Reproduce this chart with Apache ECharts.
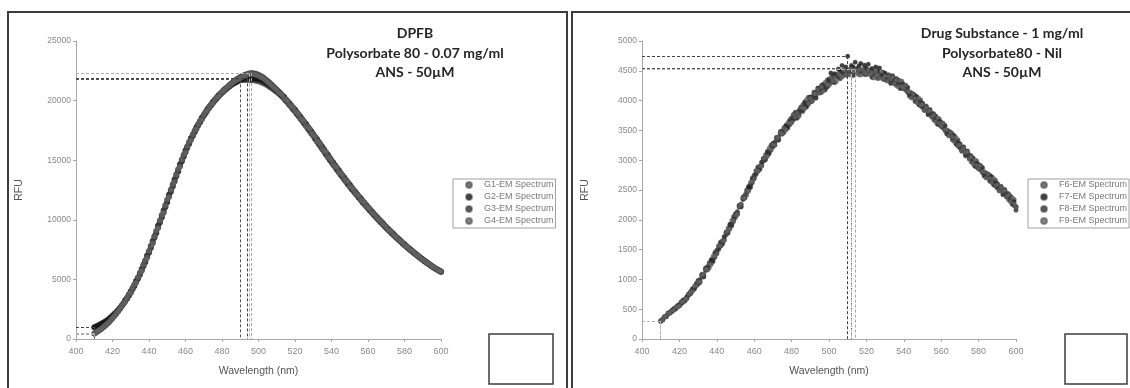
<!DOCTYPE html>
<html>
<head>
<meta charset="utf-8">
<title>ANS emission spectra</title>
<script src="https://cdn.jsdelivr.net/npm/echarts@6/dist/echarts.min.js"></script>
<style>
  html, body { margin: 0; padding: 0; background: #fff; }
  #main { width: 1130px; height: 388px; }
</style>
</head>
<body>
<div id="main"></div>
<script>
// Emission wavelengths (nm), 1 nm steps, shared by every well
const wavelengths = [
  410,411,412,413,414,415,416,417,418,419, 420,421,422,423,424,425,426,427,428,429,
  430,431,432,433,434,435,436,437,438,439, 440,441,442,443,444,445,446,447,448,449,
  450,451,452,453,454,455,456,457,458,459, 460,461,462,463,464,465,466,467,468,469,
  470,471,472,473,474,475,476,477,478,479, 480,481,482,483,484,485,486,487,488,489,
  490,491,492,493,494,495,496,497,498,499, 500,501,502,503,504,505,506,507,508,509,
  510,511,512,513,514,515,516,517,518,519, 520,521,522,523,524,525,526,527,528,529,
  530,531,532,533,534,535,536,537,538,539, 540,541,542,543,544,545,546,547,548,549,
  550,551,552,553,554,555,556,557,558,559, 560,561,562,563,564,565,566,567,568,569,
  570,571,572,573,574,575,576,577,578,579, 580,581,582,583,584,585,586,587,588,589,
  590,591,592,593,594,595,596,597,598,599, 600];

// DPFB, Polysorbate 80 0.07 mg/ml, ANS 50 µM (RFU)
const g1 = [
  1000,1070,1140,1220,1295,1380,1465,1575,1680,1820,
  1960,2105,2245,2415,2590,2780,2990,3160,3480,3650,
  3990,4180,4560,4770,5190,5400,5870,6110,6600,6860,
  7390,7650,8210,8490,9070,9340,9950,10200,10790,11060,
  11680,11930,12540,12790,13390,13640,14240,14490,15060,15290,
  15830,16030,16520,16710,17170,17340,17760,17920,18310,18450,
  18820,18940,19270,19380,19690,19780,20070,20140,20400,20470,
  20710,20770,20990,21030,21230,21270,21420,21500,21590,21680,
  21780,21720,21750,21700,21740,21730,21690,21720,21680,21650,
  21620,21560,21500,21430,21350,21260,21150,21050,20950,20830,
  20720,20600,20480,20420,20130,20110,19790,19760,19420,19400,
  19060,19040,18660,18640,18260,18240,17850,17830,17420,17410,
  17000,16990,16550,16550,16110,16110,15670,15670,15230,15230,
  14800,14790,14380,14370,13960,13950,13560,13540,13160,13140,
  12760,12750,12390,12360,12010,11985,11640,11620,11290,11250,
  10930,10900,10600,10550,10260,10215,9930,9890,9610,9565,
  9300,9250,9000,8950,8700,8650,8420,8360,8140,8080,
  7860,7810,7600,7550,7345,7290,7100,7040,6860,6800,
  6620,6570,6400,6350,6185,6130,5975,5935,5800,5755,
  5690];
const g2 = [
  960,1035,1110,1190,1270,1360,1450,1560,1670,1810,
  1955,2100,2245,2420,2595,2790,2985,3250,3390,3740,
  3890,4280,4440,4880,5050,5530,5730,6240,6450,7000,
  7230,7810,8040,8650,8890,9520,9760,10380,10600,11240,
  11480,12110,12350,12970,13210,13815,14060,14650,14900,15440,
  15670,16170,16380,16840,17030,17460,17640,18030,18190,18560,
  18700,19040,19170,19480,19590,19880,19970,20240,20320,20560,
  20630,20850,20910,21110,21170,21340,21400,21480,21570,21640,
  21700,21760,21800,21830,21860,21840,21850,21820,21830,21790,
  21770,21720,21660,21590,21500,21400,21290,21180,21050,20930,
  20790,20650,20500,20320,20290,19960,19940,19600,19580,19240,
  19240,18860,18840,18460,18440,18050,18040,17630,17620,17210,
  17200,16770,16770,16330,16330,15890,15890,15450,15450,15010,
  15000,14590,14580,14170,14160,13760,13740,13360,13340,12960,
  12940,12570,12550,12200,12170,11825,11800,11460,11430,11110,
  11070,10760,10720,10430,10380,10095,10050,9770,9730,9455,
  9400,9150,9100,8850,8800,8560,8500,8280,8220,8000,
  7940,7730,7680,7470,7415,7220,7160,6980,6920,6740,
  6680,6510,6460,6290,6235,6080,6025,5885,5840,5715,
  5620];
const g3 = [
  430,537,644,756,868,990,1112,1254,1396,1573,
  1750,1927,2104,2311,2518,2745,2960,3270,3400,3630,
  4010,4190,4440,4890,5090,5390,5880,6130,6460,7010,
  7270,7640,8230,8515,8900,9520,9820,10190,10800,11100,
  11490,12115,12410,12790,13400,13685,14070,14660,14940,15290,
  15840,16070,16380,16860,17070,17340,17780,17950,18200,18580,
  18740,18950,19290,19430,19610,19900,20040,20180,20440,20550,
  20690,20900,21010,21120,21310,21420,21560,21680,21790,21880,
  21980,22060,22130,22190,22240,22280,22320,22300,22280,22230,
  22170,22090,22010,21900,21780,21650,21510,21370,21230,21080,
  20930,20790,20630,20440,20320,20100,19900,19780,19560,19340,
  19250,19010,18760,18650,18400,18150,18050,17790,17520,17420,
  17160,16880,16770,16500,16210,16110,15840,15550,15450,15180,
  14890,14790,14530,14260,14160,13900,13640,13540,13290,13040,
  12940,12700,12460,12360,12130,11895,11800,11575,11350,11250,
  11030,10820,10720,10520,10310,10215,10020,9820,9730,9535,
  9340,9250,9075,8890,8800,8625,8450,8360,8200,8030,
  7940,7790,7630,7550,7400,7245,7160,7025,6880,6800,
  6665,6530,6460,6335,6200,6130,6010,5900,5840,5745,
  5640];
const g4 = [
  460,565,670,780,890,1010,1130,1270,1410,1585,
  1760,1935,2110,2315,2520,2745,2950,3140,3470,3755,
  3880,4260,4570,4740,5160,5540,5720,6210,6610,6830,
  7360,7810,8030,8600,9070,9320,9910,10380,10600,11190,
  11680,11920,12500,12970,13200,13775,14240,14470,15030,15450,
  15660,16150,16530,16690,17140,17470,17620,18010,18310,18440,
  18790,19040,19160,19460,19680,19780,20050,20230,20320,20560,
  20740,20830,21030,21160,21250,21400,21510,21620,21720,21820,
  21900,21980,22060,22130,22200,22260,22240,22230,22190,22140,
  22080,22000,21910,21810,21690,21560,21420,21290,21150,21010,
  20870,20660,20580,20450,20170,20070,19940,19640,19540,19410,
  19100,18990,18840,18500,18390,18240,17890,17770,17620,17260,
  17140,16980,16610,16480,16320,15950,15820,15660,15290,15160,
  15000,14640,14520,14370,14010,13895,13740,13400,13290,13140,
  12800,12700,12550,12240,12130,11985,11680,11575,11430,11140,
  11030,10900,10620,10520,10380,10120,10020,9890,9640,9535,
  9400,9170,9075,8950,8720,8625,8500,8290,8200,8080,
  7870,7790,7680,7480,7400,7290,7100,7025,6920,6740,
  6665,6570,6400,6335,6235,6080,6010,5935,5800,5745,
  5660];

// Drug substance 1 mg/ml, no Polysorbate 80, ANS 50 µM (RFU)
const f6 = [
  300,324,373,378,423,452,456,500,517,560,
  555,602,648,640,710,732,800,808,860,888,
  980,975,1085,1050,1150,1215,1195,1310,1340,1455,
  1430,1525,1615,1590,1720,1745,1860,1855,1940,1970,
  2100,2115,2245,2225,2340,2420,2415,2540,2580,2705,
  2690,2785,2875,2845,2970,2985,3090,3075,3150,3165,
  3280,3275,3385,3345,3440,3495,3465,3565,3580,3680,
  3628,3712,3789,3705,3838,3824,3936,3880,3950,3936,
  4062,4022,4143,4054,4154,4205,4137,4246,4236,4345,
  4258,4332,4399,4300,4418,4389,4486,4410,4460,4421,
  4522,4457,4545,4437,4509,4530,4432,4514,4476,4535,
  4438,4480,4514,4388,4478,4422,4491,4390,4415,4356,
  4437,4355,4433,4302,4359,4365,4252,4316,4261,4325,
  4199,4209,4212,4078,4129,4055,4088,3980,3980,3908,
  3956,3864,3909,3775,3802,3790,3676,3716,3653,3693,
  3564,3571,3572,3438,3489,3412,3443,3325,3315,3236,
  3276,3181,3224,3085,3107,3090,2971,3011,2948,2985,
  2854,2864,2867,2733,2784,2712,2748,2638,2635,2561,
  2606,2516,2564,2432,2462,2450,2336,2373,2308,2340,
  2204];
const f7 = [
  305,317,365,387,435,436,472,506,505,551,
  563,620,618,665,683,755,770,843,840,910,
  975,950,1055,1080,1190,1160,1245,1330,1300,1425,
  1445,1560,1555,1640,1665,1790,1800,1925,1900,2015,
  2095,2090,2215,2255,2380,2365,2465,2560,2540,2675,
  2705,2820,2815,2895,2915,3030,3030,3145,3110,3210,
  3275,3250,3355,3375,3480,3440,3515,3585,3540,3650,
  3649,3761,3705,3775,3761,3887,3852,3978,3894,3999,
  4055,3987,4101,4096,4210,4128,4207,4274,4180,4303,
  4359,4461,4395,4450,4421,4532,4482,4588,4484,4564,
  4745,4502,4591,4559,4645,4533,4582,4622,4500,4593,
  4539,4609,4510,4538,4481,4565,4477,4548,4409,4459,
  4460,4340,4401,4344,4415,4288,4322,4344,4205,4283,
  4217,4251,4140,4138,4063,4109,4016,4064,3932,3962,
  3950,3834,3873,3811,3850,3724,3736,3740,3605,3657,
  3582,3613,3500,3498,3423,3466,3371,3409,3267,3290,
  3270,3151,3188,3121,3155,3024,3031,3035,2900,2949,
  2872,2906,2795,2793,2718,2766,2676,2722,2587,2615,
  2600,2486,2528,2468,2510,2384,2396,2397,2260,2304,
  2222];
const f8 = [
  295,332,371,375,426,441,482,488,520,535,
  585,590,653,645,705,753,758,828,855,930,
  920,1000,1075,1040,1160,1175,1280,1270,1350,1370,
  1490,1500,1625,1600,1710,1785,1775,1895,1930,2055,
  2040,2140,2235,2215,2350,2380,2500,2500,2590,2620,
  2750,2760,2885,2855,2960,3025,3005,3115,3140,3250,
  3220,3300,3375,3335,3450,3455,3550,3525,3590,3595,
  3712,3677,3803,3719,3824,3880,3817,3936,3936,4055,
  3978,4057,4129,4040,4168,4149,4256,4190,4250,4226,
  4342,4297,4413,4314,4404,4445,4367,4466,4446,4505,
  4438,4492,4510,4423,4520,4474,4512,4458,4490,4436,
  4505,4445,4508,4402,4464,4478,4372,4446,4401,4475,
  4353,4390,4419,4288,4373,4309,4371,4260,4275,4206,
  4271,4179,4224,4090,4117,4103,3986,4028,3968,4010,
  3884,3894,3897,3763,3814,3742,3778,3668,3665,3591,
  3636,3541,3584,3450,3477,3460,3341,3373,3303,3338,
  3204,3211,3212,3073,3119,3042,3073,2963,2960,2883,
  2926,2834,2879,2745,2772,2760,2646,2686,2623,2663,
  2534,2546,2552,2420,2474,2402,2438,2325,2320,2238,
  2160];
const f9 = [
  300,318,368,390,431,436,476,482,532,542,
  558,623,623,670,675,755,778,803,885,895,
  965,955,1065,1090,1175,1160,1260,1250,1390,1395,
  1435,1565,1565,1650,1650,1790,1815,1845,1990,1985,
  2085,2095,2225,2265,2365,2365,2480,2480,2630,2645,
  2695,2825,2825,2905,2900,3030,3045,3065,3200,3180,
  3265,3255,3365,3385,3465,3440,3530,3505,3630,3620,
  3635,3768,3719,3789,3740,3887,3873,3866,4020,3957,
  4041,3994,4115,4110,4189,4128,4228,4162,4306,4261,
  4265,4388,4329,4384,4320,4452,4423,4396,4515,4442,
  4501,4429,4530,4493,4518,4453,4516,4430,4522,4471,
  4445,4512,4444,4472,4380,4485,4428,4376,4485,4377,
  4416,4327,4405,4358,4394,4288,4343,4232,4331,4241,
  4205,4257,4152,4150,4045,4109,4034,3968,4040,3926,
  3938,3840,3885,3823,3832,3724,3754,3644,3713,3621,
  3570,3619,3512,3510,3405,3466,3389,3313,3375,3254,
  3258,3157,3200,3133,3137,3024,3049,2939,3008,2913,
  2860,2912,2807,2805,2700,2766,2694,2626,2695,2579,
  2588,2492,2540,2480,2492,2384,2414,2301,2368,2268,
  2210];

const leftNames = ['G1-EM Spectrum', 'G2-EM Spectrum', 'G3-EM Spectrum', 'G4-EM Spectrum'];
const rightNames = ['F6-EM Spectrum', 'F7-EM Spectrum', 'F8-EM Spectrum', 'F9-EM Spectrum'];
const leftTitle = ['DPFB', 'Polysorbate 80 - 0.07 mg/ml', 'ANS - 50µM'];
const rightTitle = ['Drug Substance - 1 mg/ml', 'Polysorbate80 - Nil', 'ANS - 50µM'];

const dotColors = ['#555555', '#111111', '#333333', '#666666'];
const guideColors = ['#555555', '#444444', '#a8a8a8', '#b4b4b4'];
const axisFont = 'Liberation Sans, Arial, sans-serif';

// Drop lines from the first reading and from the peak of a well to both axes
function guideLines(values, xMin) {
  let k = 0;
  values.forEach((v, i) => { if (v > values[k]) k = i; });
  const x0 = wavelengths[0], y0 = values[0];
  const xp = wavelengths[k], yp = values[k];
  return [
    [{ coord: [xMin, y0] }, { coord: [x0, y0] }],
    [{ coord: [x0, y0] }, { coord: [x0, 0] }],
    [{ coord: [xMin, yp] }, { coord: [xp, yp] }],
    [{ coord: [xp, yp] }, { coord: [xp, 0] }]
  ];
}

function wellSeries(name, values, idx, gridIdx, size) {
  return {
    name: name,
    type: 'scatter',
    xAxisIndex: gridIdx,
    yAxisIndex: gridIdx,
    symbol: 'circle',
    symbolSize: size,
    data: wavelengths.map((w, i) => [w, values[i]]),
    itemStyle: { color: dotColors[idx], borderColor: 'rgba(60,60,60,0.6)', borderWidth: 0.5 },
    markLine: {
      silent: true,
      symbol: ['none', 'none'],
      label: { show: false },
      lineStyle: { type: [3, 2], width: 1, color: guideColors[idx] },
      data: guideLines(values, 400)
    }
  };
}

function axisX(gridIdx) {
  return {
    gridIndex: gridIdx, type: 'value', min: 400, max: 600, interval: 20,
    name: 'Wavelength (nm)', nameLocation: 'middle', nameGap: 27,
    nameTextStyle: { color: '#555', fontFamily: axisFont, fontSize: 10.5 },
    axisLine: { show: true, lineStyle: { color: '#a8a8a8', width: 1 } },
    axisTick: { show: true, length: 3, lineStyle: { color: '#a8a8a8' } },
    axisLabel: { color: '#8a8a8a', fontFamily: axisFont, fontSize: 9, margin: 8 },
    splitLine: { show: false }
  };
}

function axisY(gridIdx, max, step) {
  return {
    gridIndex: gridIdx, type: 'value', min: 0, max: max, interval: step,
    name: 'RFU', nameLocation: 'middle', nameGap: 51,
    nameTextStyle: { color: '#555', fontFamily: axisFont, fontSize: 10.5 },
    axisLine: { show: true, lineStyle: { color: '#a8a8a8', width: 1 } },
    axisTick: { show: true, length: 3, lineStyle: { color: '#a8a8a8' } },
    axisLabel: { color: '#8a8a8a', fontFamily: axisFont, fontSize: 8.5, margin: 5,
      formatter: v => String(v) },
    splitLine: { show: false }
  };
}

function legendBox(names, left) {
  return {
    data: names, orient: 'vertical', left: left, top: 179,
    icon: 'circle', itemWidth: 6, itemHeight: 6, itemGap: 0,
    selectedMode: false,
    borderColor: '#a0a0a0', borderWidth: 1, borderRadius: 0,
    padding: [0, 2, 1, 12],
    textStyle: { color: '#7a7a7a', fontFamily: axisFont, fontSize: 9, lineHeight: 12,
      padding: [0, 0, 0, 7] }
  };
}

function titleBlock(lines, cx) {
  return {
    type: 'text', x: cx, y: 24, silent: true,
    style: {
      text: lines.join('\n'), textAlign: 'center', textVerticalAlign: 'top',
      font: 'bold 14px Lato, "Open Sans", sans-serif', lineHeight: 19.5, fill: '#262626'
    }
  };
}

function frame(x, y, w, h, lw) {
  return { type: 'rect', silent: true, shape: { x: x, y: y, width: w, height: h },
    style: { fill: 'none', stroke: '#3c3c3c', lineWidth: lw } };
}

const chart = echarts.init(document.getElementById('main'), null, { renderer: 'canvas' });

const series = [];
[g1, g2, g3, g4].forEach((v, i) => series.push(wellSeries(leftNames[i], v, i, 0, 5.5)));
[f6, f7, f8, f9].forEach((v, i) => series.push(wellSeries(rightNames[i], v, i, 1, 4.5)));

chart.setOption({
  animation: false,
  backgroundColor: '#ffffff',
  grid: [
    { left: 76, top: 41, width: 365, height: 298 },
    { left: 642, top: 41, width: 374, height: 298 }
  ],
  xAxis: [axisX(0), axisX(1)],
  yAxis: [axisY(0, 25000, 5000), axisY(1, 5000, 500)],
  legend: [legendBox(leftNames, 453), legendBox(rightNames, 1028)],
  graphic: [
    frame(8, 12, 559, 420, 2),
    frame(572, 12, 600, 420, 2),
    frame(489, 334, 64, 50, 1.5),
    frame(1065, 334, 62, 50, 1.5),
    titleBlock(leftTitle, 415),
    titleBlock(rightTitle, 1002)
  ],
  series: series
});
</script>
</body>
</html>
